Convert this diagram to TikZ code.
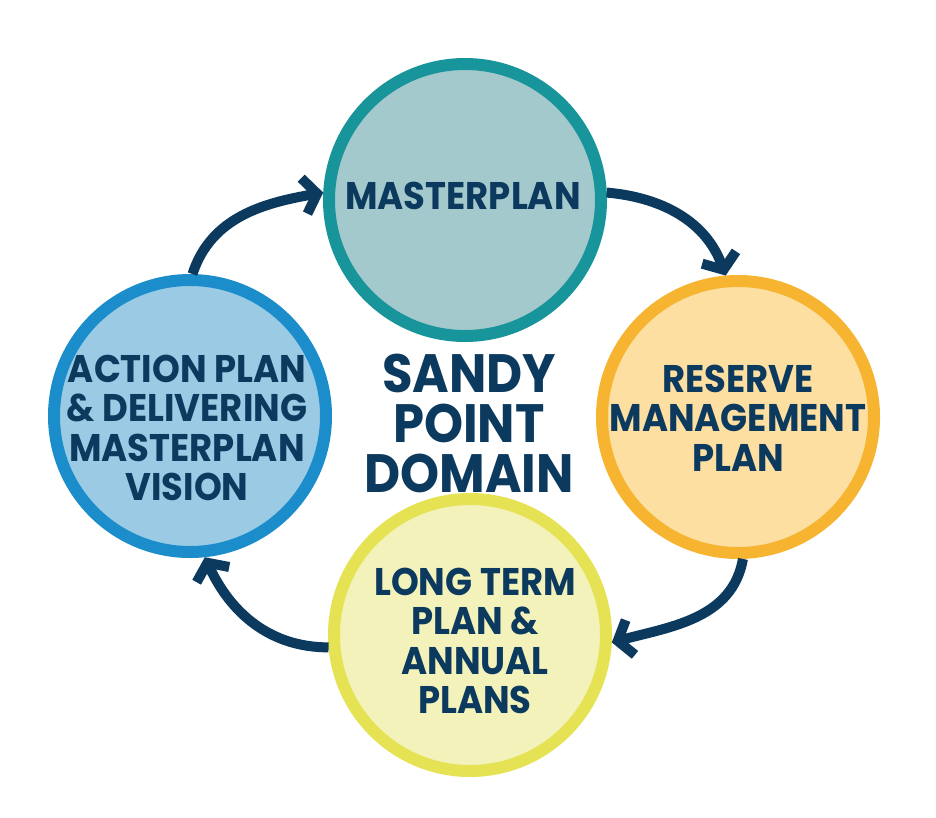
\documentclass[tikz,border=0pt]{standalone}
\usepackage{fontspec}
\setmainfont{Poppins}[FakeStretch=0.92]
\usetikzlibrary{arrows.meta}
\definecolor{navy}{HTML}{0C3A5E}
\definecolor{tealring}{HTML}{17959A}
\definecolor{tealfill}{HTML}{A4C9CC}
\definecolor{bluering}{HTML}{1B8DCB}
\definecolor{bluefill}{HTML}{9BCAE4}
\definecolor{orring}{HTML}{F6B431}
\definecolor{orfill}{HTML}{FDDFA1}
\definecolor{yering}{HTML}{E5E253}
\definecolor{yefill}{HTML}{F3F2BA}
\begin{document}
\begin{tikzpicture}[x=1pt,y=-1pt,
  stage/.style={circle,line width=12pt,minimum size=272pt,inner sep=0pt},
  lbl/.style={text=navy,align=center,font=\bfseries\fontsize{38.5}{39.5}\selectfont,inner sep=0pt},
  flow/.style={draw=navy,line width=10pt,-{Straight Barb[length=13pt,width=36pt,line width=10pt]}}]
\useasboundingbox (0,0) rectangle (936,817);
\node[stage,draw=tealring,fill=tealfill] (mp) at (465,200) {};
\node[stage,draw=orring,fill=orfill] (rm) at (738,417) {};
\node[stage,draw=yering,fill=yefill] (lt) at (470,635) {};
\node[stage,draw=bluering,fill=bluefill] (ap) at (190,416) {};
\node[lbl] (mpt) at (463,196) {MASTERPLAN};
\node[lbl] (rmt) at (738,418) {RESERVE\\MANAGEMENT\\PLAN};
\node[lbl] (ltt) at (475,641) {LONG TERM\\PLAN \&\\ANNUAL\\PLANS};
\node[lbl] (apt) at (187,428) {ACTION PLAN\\\& DELIVERING\\MASTERPLAN\\VISION};
\node[text=navy,align=center,inner sep=0pt,font=\bfseries\fontsize{54}{50}\selectfont] (spd) at (469,423) {SANDY\\POINT\\DOMAIN};
\draw[flow] (ap.89) to[out=72,in=190] (mp.177);
\draw[flow] (mp.3) to[out=-5,in=110] (rm.95);
\draw[flow] (rm.-88) to[out=-100,in=15] (lt.-3);
\draw[flow] (lt.185) to[out=180,in=-65] (ap.-84);
\end{tikzpicture}
\end{document}
